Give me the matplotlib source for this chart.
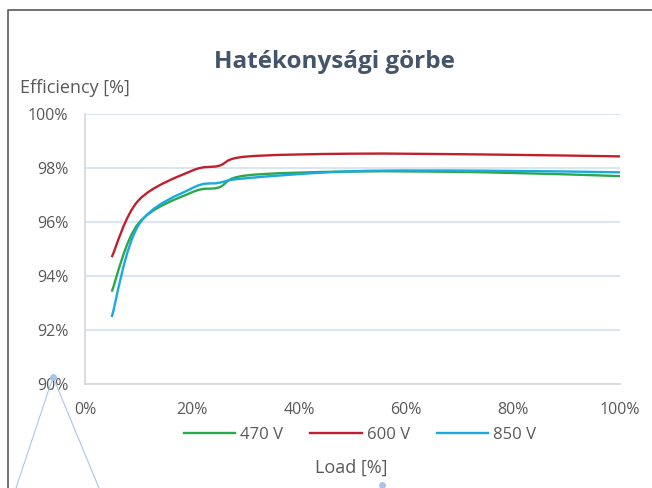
import numpy as np
import matplotlib.pyplot as plt
from matplotlib.path import Path
from matplotlib.patches import PathPatch
from matplotlib.lines import Line2D

plt.rcParams['font.family'] = ['Open Sans', 'DejaVu Sans']

# load points [%] and efficiency [%]
load = [5, 10, 20, 25, 30, 50, 75, 100]
eff_470 = [93.42, 95.95, 97.10, 97.28, 97.72, 97.87, 97.84, 97.70]
eff_600 = [94.70, 96.80, 97.90, 98.08, 98.42, 98.53, 98.50, 98.43]
eff_850 = [92.48, 95.88, 97.25, 97.45, 97.62, 97.88, 97.90, 97.84]

series = [('470 V', eff_470, '#2aa84a'),
          ('600 V', eff_600, '#c21f2d'),
          ('850 V', eff_850, '#1aa9e2')]

x_ticks = [0, 20, 40, 60, 80, 100]
y_ticks = [90, 92, 94, 96, 98, 100]


def smooth_path(x, y):
    # excel-style smoothed line: bezier segments with catmull-rom handles
    pts = np.column_stack([x, y]).astype(float)
    n = len(pts)
    verts = [pts[0]]
    codes = [Path.MOVETO]
    for i in range(n - 1):
        prev = pts[i - 1] if i > 0 else pts[i]
        nxt = pts[i + 2] if i + 2 < n else pts[i + 1]
        c1 = pts[i] + (pts[i + 1] - prev) / 6
        c2 = pts[i + 1] - (nxt - pts[i]) / 6
        verts += [c1, c2, pts[i + 1]]
        codes += [Path.CURVE4] * 3
    return Path(verts, codes)


fig = plt.figure(figsize=(6.52, 4.88), dpi=100)
ax = fig.add_axes([85 / 652, 1 - 384 / 488, 535 / 652, 270 / 488])

for label, vals, col in series:
    ax.add_patch(PathPatch(smooth_path(load, vals), fill=False, edgecolor=col,
                           lw=1.7, capstyle='butt', zorder=3))

ax.set_xlim(0, 100)
ax.set_ylim(90, 100)
ax.set_xticks(x_ticks)
ax.set_yticks(y_ticks)
ax.set_xticklabels([f'{v}%' for v in x_ticks])
ax.set_yticklabels([f'{v}%' for v in y_ticks])
ax.tick_params(length=0, labelsize=11.5, labelcolor='#595959', pad=12)
ax.tick_params(axis='x', pad=13)
ax.grid(axis='y', color='#d6e4f0', lw=1.3)
ax.set_axisbelow(True)
for s in ['top', 'right']:
    ax.spines[s].set_visible(False)
for s in ['left', 'bottom']:
    ax.spines[s].set_color('#d9d9d9')
    ax.spines[s].set_linewidth(1.3)

handles = [Line2D([], [], color=c, lw=1.7) for _, _, c in series]
fig.legend(handles, [s[0] for s in series], loc='center', ncol=3,
           bbox_to_anchor=(360 / 652, 1 - 435 / 488), frameon=False,
           fontsize=12, labelcolor='#595959', handlelength=3.1,
           handletextpad=0.3, columnspacing=1.6)

fig.text(334 / 652, 1 - 62 / 488, 'Hatékonysági görbe', ha='center', va='center',
         fontsize=17.5, fontweight='bold', color='#44546a')
fig.text(20 / 652, 1 - 88 / 488, 'Efficiency [%]', ha='left', va='center',
         fontsize=13, color='#595959')
fig.text(351 / 652, 1 - 468 / 488, 'Load [%]', ha='center', va='center',
         fontsize=13, color='#595959')

# chart frame and stray selection marks
fig.add_artist(Line2D([8 / 652, 8 / 652, 1], [0, 1 - 10 / 488, 1 - 10 / 488],
                      color='#595959', lw=1.2))
fig.add_artist(Line2D([16 / 652, 53 / 652, 99 / 652], [0, 1 - 377 / 488, 0],
                      color='#a9c4eb', lw=0.8))
fig.add_artist(Line2D([53 / 652], [1 - 377 / 488], marker='o', ms=4,
                      color='#a9c4eb'))
fig.add_artist(Line2D([382 / 652], [1 - 485 / 488], marker='o', ms=4,
                      color='#a9c4eb'))

fig.savefig('out.png', dpi=100)
